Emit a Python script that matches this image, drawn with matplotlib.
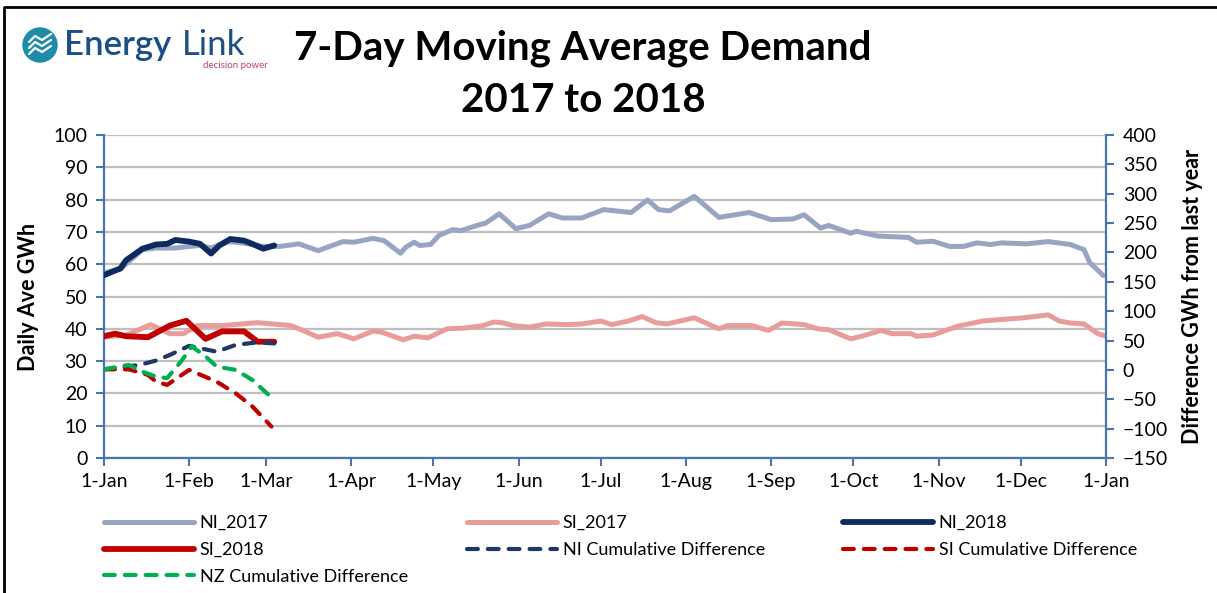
import matplotlib
matplotlib.use("Agg")
import matplotlib.pyplot as plt
from matplotlib.lines import Line2D
from matplotlib.patches import Circle

plt.rcParams['font.family'] = ['Lato', 'DejaVu Sans']

# ---------------- data (day of year, value) ----------------
month_days = [0, 31, 59, 90, 120, 151, 181, 212, 243, 273, 304, 334, 365]
month_labels = ['1-Jan', '1-Feb', '1-Mar', '1-Apr', '1-May', '1-Jun', '1-Jul',
                '1-Aug', '1-Sep', '1-Oct', '1-Nov', '1-Dec', '1-Jan']

ni2017_days = [0, 1, 6, 8, 14, 19, 26, 31, 35, 39, 42, 46, 51, 58, 64, 71, 78, 87, 91, 98,
               102, 108, 110, 113, 115, 119, 122, 127, 130, 137, 139, 144, 150, 155, 162,
               167, 174, 182, 192, 198, 202, 206, 215, 224, 235, 243, 251, 255, 261, 264,
               272, 274, 282, 293, 296, 302, 308, 313, 318, 323, 327, 336, 344, 352, 357,
               359, 364]
ni2017_vals = [56.5, 57.5, 58.5, 60, 64.5, 65, 65, 65.5, 65.8, 65, 66, 67, 66.5, 65.5, 65.5,
               66.3, 64.2, 67, 66.8, 68, 67.3, 63.4, 65.3, 66.8, 65.8, 66.1, 68.9, 70.7, 70.4,
               72.3, 72.7, 75.6, 71, 72, 75.6, 74.3, 74.3, 76.9, 76, 79.9, 76.9, 76.5, 81,
               74.5, 76, 73.8, 74, 75.3, 71.2, 72, 69.6, 70.2, 68.7, 68.3, 66.8, 67.1, 65.5,
               65.5, 66.6, 66.1, 66.6, 66.3, 67, 66.1, 64.5, 60.6, 56.5]

si2017_days = [0, 8, 17, 24, 29, 34, 43, 56, 68, 71, 78, 85, 91, 98, 101, 109, 113, 118,
               125, 131, 138, 142, 145, 149, 155, 161, 169, 174, 181, 185, 191, 196, 201,
               205, 215, 224, 227, 236, 242, 247, 255, 260, 264, 272, 276, 283, 287, 294,
               296, 302, 311, 320, 327, 335, 344, 348, 352, 357, 362, 365]
si2017_vals = [37.5, 38, 41.3, 38.5, 38.5, 41, 41, 41.9, 41, 40, 37.4, 38.5, 36.9, 39.3, 39,
               36.6, 37.7, 37.2, 40, 40.2, 41, 42.1, 41.9, 41, 40.5, 41.5, 41.3, 41.5, 42.4,
               41.3, 42.4, 43.8, 41.9, 41.5, 43.4, 40, 41, 41, 39.5, 41.8, 41.3, 40, 39.7,
               36.9, 37.7, 39.5, 38.5, 38.5, 37.7, 38.1, 40.8, 42.4, 42.9, 43.4, 44.3, 42.4,
               41.8, 41.5, 38.5, 37.7]

ni2018_days = [0, 6, 8, 14, 19, 23, 26, 31, 35, 39, 42, 46, 51, 54, 58, 62]
ni2018_vals = [56.6, 58.7, 61.2, 64.8, 66.1, 66.3, 67.5, 67, 66.3, 63.3, 65.8, 67.8, 67.3,
               66.3, 64.8, 65.8]

si2018_days = [0, 4, 8, 16, 24, 30, 37, 43, 51, 56, 62]
si2018_vals = [37.7, 38.5, 37.7, 37.4, 41, 42.5, 36.9, 39.2, 39.2, 36, 36]

nicum_days = [0, 13, 19, 24, 31, 41, 48, 56, 62]
nicum_vals = [1, 8.5, 16, 25.5, 41, 31, 42.6, 47, 45]

sicum_days = [0, 9, 16, 19, 23, 31, 41, 48, 54, 61]
sicum_vals = [1, 1, -8.5, -20, -25.5, 0, -20, -40, -62, -96.5]

nzcum_days = [0, 9, 14, 19, 23, 28, 32, 37, 41, 48, 54, 60]
nzcum_vals = [1, 8.5, -3, -11.5, -14, 14, 40, 23, 5.7, 0, -17, -42.6]

left_ticks = list(range(0, 101, 10))
right_ticks = list(range(-150, 401, 50))

# ---------------- styling ----------------
C_NI17 = '#97A5C3'
C_SI17 = '#E89D9C'
C_NI18 = '#0E2A5E'
C_SI18 = '#C00000'
C_NICUM = '#1F3864'
C_SICUM = '#C00000'
C_NZCUM = '#00B050'
AX_BLUE = '#4A76AE'
GRID = '#BFBFBF'

W, H = 1217, 593
fig = plt.figure(figsize=(W / 100, H / 100), dpi=100)

x0, x1, y0, y1 = 104, 1106, 135, 458
ax = fig.add_axes([x0 / W, 1 - y1 / H, (x1 - x0) / W, (y1 - y0) / H])
ax2 = ax.twinx()

ax.set_xlim(0, 365)
ax.set_ylim(0, 100)
ax2.set_ylim(-150, 400)

ax.set_yticks(left_ticks)
ax2.set_yticks(right_ticks)
ax.set_xticks(month_days)
ax.set_xticklabels(month_labels)

ax.grid(axis='y', color=GRID, linewidth=1.6, zorder=0)
ax.set_axisbelow(True)

for a in (ax, ax2):
    a.spines['top'].set_visible(False)
    for s in ('left', 'right', 'bottom'):
        a.spines[s].set_color(AX_BLUE)
        a.spines[s].set_linewidth(1.6)
ax.spines['right'].set_visible(False)
ax2.spines['left'].set_visible(False)
ax2.spines['bottom'].set_visible(False)

ax.tick_params(axis='y', direction='out', length=6, width=1.5, color=AX_BLUE,
               labelsize=14, pad=6)
ax.tick_params(axis='x', direction='out', length=6, width=1.5, color=AX_BLUE,
               labelsize=14, pad=5)
ax2.tick_params(axis='y', direction='out', length=6, width=1.5, color=AX_BLUE,
                labelsize=14, pad=6)

ax.set_ylabel('Daily Ave GWh', fontsize=15.5, fontweight='bold', labelpad=10)
ax2.set_ylabel('Difference GWh from last year', fontsize=15.5, fontweight='bold',
               labelpad=10)

lw17 = 3.6
h_ni17, = ax.plot(ni2017_days, ni2017_vals, color=C_NI17, lw=lw17, solid_capstyle='round',
                  solid_joinstyle='round', zorder=2)
h_si17, = ax.plot(si2017_days, si2017_vals, color=C_SI17, lw=lw17, solid_capstyle='round',
                  solid_joinstyle='round', zorder=2)
h_ni18, = ax.plot(ni2018_days, ni2018_vals, color=C_NI18, lw=4.2, solid_capstyle='round',
                  solid_joinstyle='round', zorder=3)
h_si18, = ax.plot(si2018_days, si2018_vals, color=C_SI18, lw=4.2, solid_capstyle='round',
                  solid_joinstyle='round', zorder=3)

dash = (2.6, 2.4)
h_nic, = ax2.plot(nicum_days, nicum_vals, color=C_NICUM, lw=3, dashes=dash,
                  dash_capstyle='round', zorder=4)
h_sic, = ax2.plot(sicum_days, sicum_vals, color=C_SICUM, lw=3, dashes=dash,
                  dash_capstyle='round', zorder=4)
h_nzc, = ax2.plot(nzcum_days, nzcum_vals, color=C_NZCUM, lw=3, dashes=dash,
                  dash_capstyle='round', zorder=4)

# ---------------- legend (3 columns, row-wise order) ----------------
def leg(handles, labels, xpix):
    fig.legend(handles, labels, loc='upper left', bbox_to_anchor=(xpix / W, 1 - 515 / H),
               frameon=False, fontsize=13, handlelength=5.0, handletextpad=0.3,
               labelspacing=0.6, borderaxespad=0, borderpad=0)

def proxy(color, ls='-', lw=4.2):
    if ls == '-':
        return Line2D([], [], color=color, lw=lw, solid_capstyle='round')
    return Line2D([], [], color=color, lw=3, dashes=dash, dash_capstyle='round')

leg([proxy(C_NI17, lw=lw17), proxy(C_SI18), proxy(C_NZCUM, '--')],
    ['NI_2017', 'SI_2018', 'NZ Cumulative Difference'], 104)
leg([proxy(C_SI17, lw=lw17), proxy(C_NICUM, '--')],
    ['SI_2017', 'NI Cumulative Difference'], 467)
leg([proxy(C_NI18), proxy(C_SICUM, '--')],
    ['NI_2018', 'SI Cumulative Difference'], 843)

# ---------------- title ----------------
fig.text(583 / W, 1 - 48 / H, '7-Day Moving Average Demand', ha='center', va='center',
         fontsize=29, fontweight='bold', color='black')
fig.text(583 / W, 1 - 101 / H, '2017 to 2018', ha='center', va='center',
         fontsize=29, fontweight='bold', color='black')

# ---------------- logo ----------------
logo_ax = fig.add_axes([0, 0, 1, 1], zorder=-1)
logo_ax.set_xlim(0, W)
logo_ax.set_ylim(H, 0)
logo_ax.axis('off')
logo_ax.add_patch(Circle((40, 45), 17, color='#1E8CA8'))
for dy in (-6, 0, 6):
    logo_ax.plot([29, 35, 42, 51], [48 + dy, 42 + dy, 46 + dy, 40 + dy], color='white',
                 lw=1.6, solid_capstyle='round')
logo_ax.text(64, 45, 'Energy', fontsize=25, fontweight='semibold', color='#1B4F86',
             ha='left', va='center')
logo_ax.text(182, 45, 'Link', fontsize=25, color='#1B4F86', ha='left', va='center')
logo_ax.text(268, 65, 'decision power', fontsize=7, color='#C2436A', ha='right',
             va='center')
# figure border (top and left)
logo_ax.plot([4, 4, W + 5], [H + 5, 7, 7], color='black', lw=2)

fig.savefig('out.png', dpi=100)
